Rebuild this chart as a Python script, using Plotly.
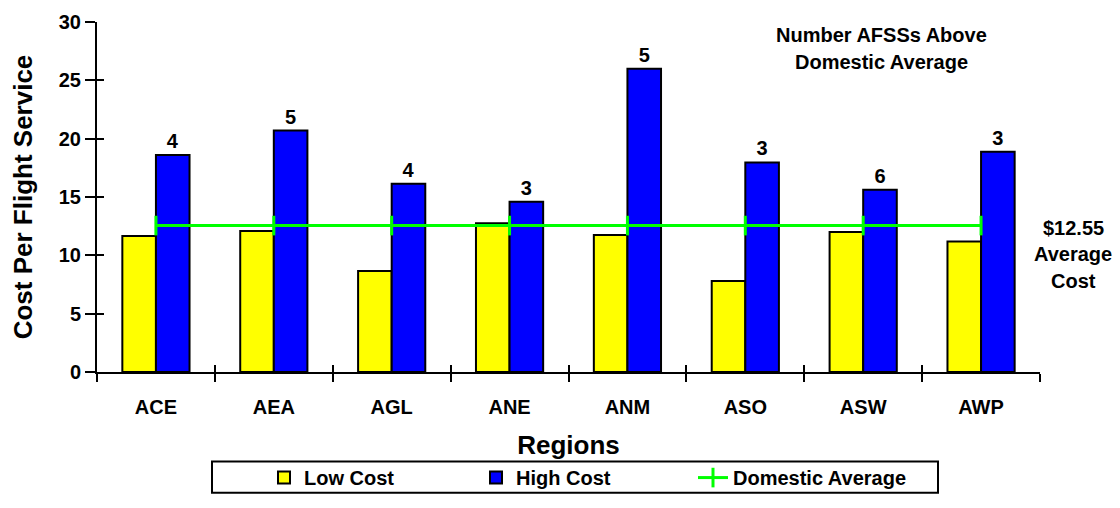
import plotly.graph_objects as go

# Regional cost per flight service
regions = ["ACE", "AEA", "AGL", "ANE", "ANM", "ASO", "ASW", "AWP"]
low_cost = [11.65, 12.09, 8.66, 12.74, 11.74, 7.80, 12.00, 11.19]
high_cost = [18.60, 20.70, 16.14, 14.59, 26.00, 17.96, 15.62, 18.88]
afss_above_avg = [4, 5, 4, 3, 5, 3, 6, 3]
domestic_avg = 12.55

y_ticks = [0, 5, 10, 15, 20, 25, 30]

FONT = "Arial, Liberation Sans, sans-serif"
GREEN = "#00FF00"

# plot-area geometry in pixels (used to place legends/notes in paper units)
W, H = 1120, 508
L, R, T, B = 97, 80, 11, 129
PW, PH = W - L - R, H - T - B


def px_x(x):
    return (x - L) / PW


def px_y(y):
    return (H - B - y) / PH


def bold(size):
    return dict(family=FONT, size=size, color="black", weight="bold")


fig = go.Figure()

fig.add_trace(go.Bar(
    x=regions, y=low_cost, name="Low Cost", legend="legend",
    marker=dict(color="#FFFF00", line=dict(color="black", width=2)),
))
fig.add_trace(go.Bar(
    x=regions, y=high_cost, name="High Cost", legend="legend2",
    marker=dict(color="#0000FF", line=dict(color="black", width=2)),
    text=[str(n) for n in afss_above_avg], textposition="outside",
    textfont=bold(20), cliponaxis=False,
))
fig.add_trace(go.Scatter(
    x=regions, y=[domestic_avg] * len(regions), name="Domestic Average",
    legend="legend3", mode="lines+markers",
    line=dict(color=GREEN, width=3),
    marker=dict(symbol="line-ns", size=14, line=dict(color=GREEN, width=3)),
))
# empty trace that brings up the overlay axes carrying the inner tick halves
fig.add_trace(go.Scatter(
    x=[], y=[], xaxis="x2", yaxis="y2", showlegend=False, hoverinfo="skip",
))

legend_common = dict(
    orientation="h", yanchor="middle", y=px_y(490), xanchor="left",
    bgcolor="rgba(0,0,0,0)", borderwidth=0, font=bold(20),
)

fig.update_layout(
    width=W, height=H,
    margin=dict(l=L, r=R, t=T, b=B),
    paper_bgcolor="white", plot_bgcolor="white",
    barmode="group", bargap=0.43, bargroupgap=0,
    font=bold(20),
    showlegend=True,
    legend=dict(x=px_x(264), **legend_common),
    legend2=dict(x=px_x(476), **legend_common),
    legend3=dict(x=px_x(693), **legend_common),
    xaxis=dict(
        type="category", categoryorder="array", categoryarray=regions,
        tickson="boundaries", ticks="outside", ticklen=8, tickwidth=2,
        tickcolor="black", showline=True, linecolor="black", linewidth=2,
        showgrid=False, zeroline=False,
        tickfont=bold(20), ticklabelstandoff=16,
        title=dict(text="Regions", standoff=19, font=bold(26)),
    ),
    yaxis=dict(
        range=[0, 30], tickvals=y_ticks, ticks="outside", ticklen=10,
        tickwidth=2, tickcolor="black", showline=True, linecolor="black",
        linewidth=2, showgrid=False, zeroline=False,
        tickfont=bold(20),
        title=dict(text="Cost Per Flight Service", standoff=19, font=bold(26)),
    ),
    xaxis2=dict(
        overlaying="x", anchor="y", range=[-0.5, len(regions) - 0.5],
        tickvals=[i - 0.5 for i in range(len(regions) + 1)],
        ticks="inside", ticklen=7, tickwidth=2, tickcolor="black",
        showticklabels=False, showline=False, showgrid=False, zeroline=False,
        fixedrange=True,
    ),
    yaxis2=dict(
        overlaying="y", anchor="x", side="left", range=[0, 30],
        tickvals=y_ticks, ticks="inside", ticklen=7, tickwidth=2,
        tickcolor="black", showticklabels=False, showline=False,
        showgrid=False, zeroline=False, fixedrange=True,
    ),
)

# frame around the three legend entries
fig.add_shape(
    type="rect", xref="paper", yref="paper",
    x0=px_x(212), x1=px_x(938), y0=px_y(473), y1=px_y(506),
    line=dict(color="black", width=2), fillcolor="rgba(0,0,0,0)", layer="below",
)

# note about the counts printed above the high-cost bars
for line, y in [("Number AFSSs Above", 25), ("Domestic Average", 53)]:
    fig.add_annotation(
        text=line, xref="paper", yref="paper", x=px_x(881), y=px_y(y),
        xanchor="center", yanchor="middle", showarrow=False, font=bold(20),
    )

# label for the domestic average line
for line, y in [(f"${domestic_avg:.2f}", 228), ("Average", 255), ("Cost", 283)]:
    fig.add_annotation(
        text=line, xref="paper", yref="paper", x=px_x(1073), y=px_y(y),
        xanchor="center", yanchor="middle", showarrow=False, font=bold(20),
    )

fig.write_html("out.html")
